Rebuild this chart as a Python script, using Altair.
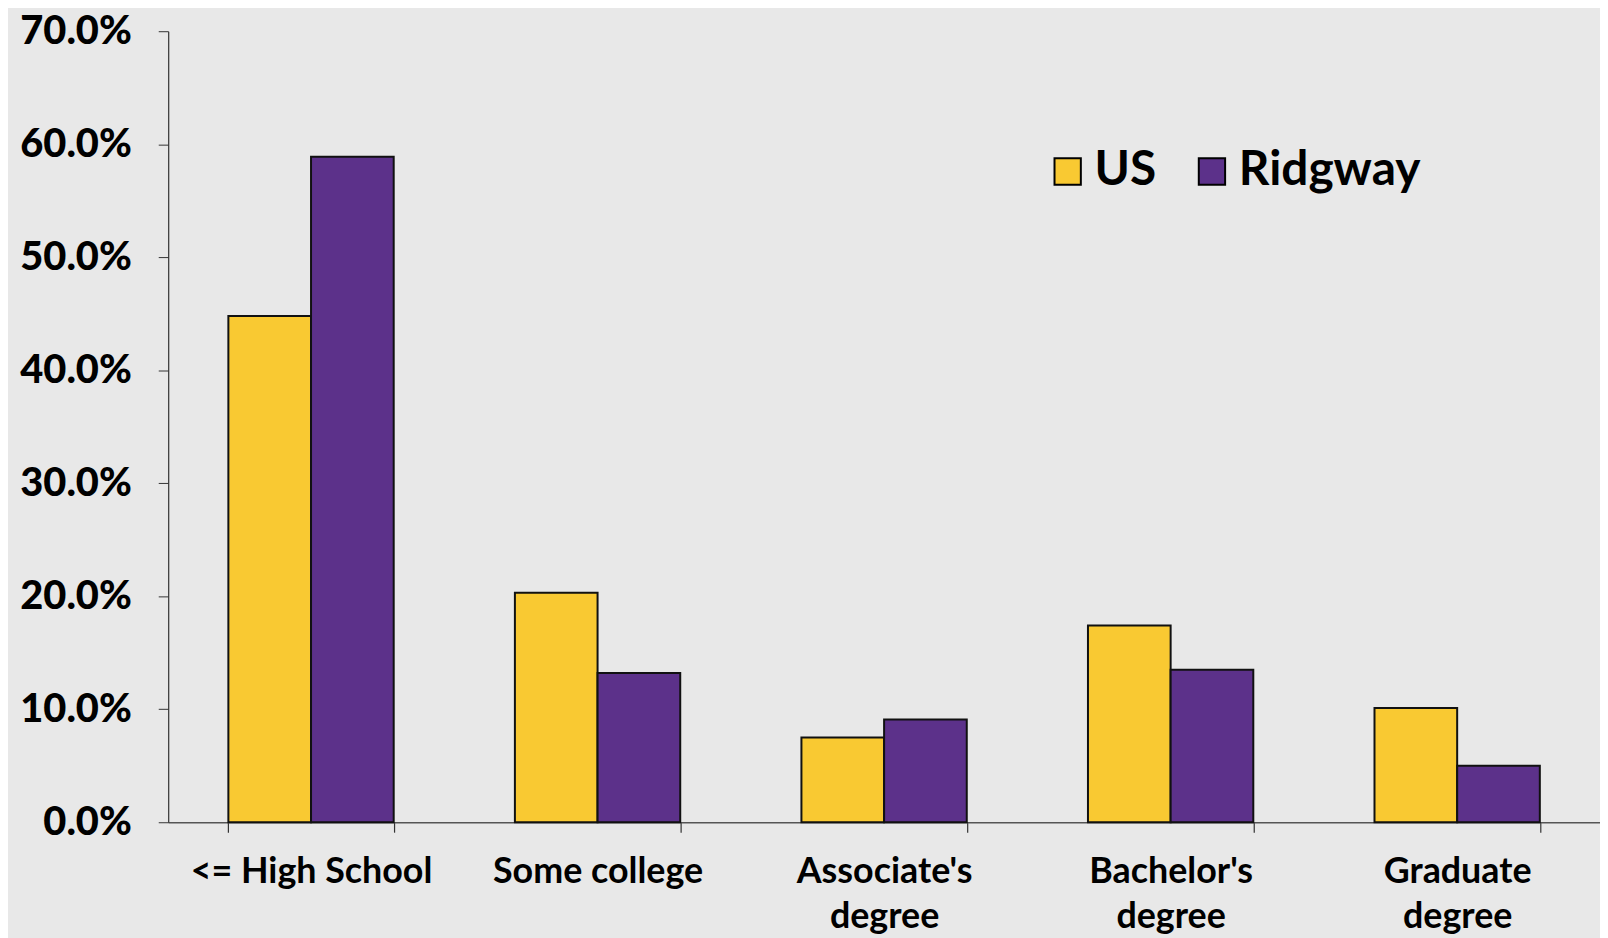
import altair as alt
import pandas as pd

categories = ["<= High School", "Some college", "Associate's degree", "Bachelor's degree", "Graduate degree"]
series = ["US", "Ridgway"]
us_values = [0.448, 0.203, 0.075, 0.174, 0.101]
ridgway_values = [0.589, 0.132, 0.091, 0.135, 0.050]

rows = []
for c, u, r in zip(categories, us_values, ridgway_values):
    rows.append({"category": c, "series": "US", "value": u})
    rows.append({"category": c, "series": "Ridgway", "value": r})
df = pd.DataFrame(rows)

FONT = "Lato"

chart = alt.Chart(df).mark_bar(stroke="#111111", strokeWidth=2).encode(
    x=alt.X("category:N", sort=categories, title=None,
            scale=alt.Scale(paddingInner=0.423, paddingOuter=0.21),
            axis=alt.Axis(labelAngle=0, tickBand="extent", tickSize=10, tickColor="#333333",
                          domainColor="#555555", domainWidth=1.5, tickWidth=1.2,
                          labelFont=FONT, labelFontSize=36, labelFontWeight="bold", labelColor="black",
                          labelPadding=23, labelLineHeight=45, labelBaseline="top", labelLimit=400,
                          labelExpr="indexof(datum.label, 'degree') > 0 ? split(datum.label, ' ') : datum.label")),
    xOffset=alt.XOffset("series:N", sort=series),
    y=alt.Y("value:Q", title=None,
            scale=alt.Scale(domain=[0, 0.7]),
            axis=alt.Axis(format=".1%", values=[0, 0.1, 0.2, 0.3, 0.4, 0.5, 0.6, 0.7], grid=False,
                          tickSize=10, tickColor="#333333", domainColor="#333333", domainWidth=1.2,
                          labelFont=FONT, labelFontSize=40, labelFontWeight=900, labelColor="black",
                          labelPadding=27, labelLimit=300)),
    color=alt.Color("series:N", sort=series,
                    scale=alt.Scale(domain=series, range=["#f9c932", "#5c318a"]),
                    legend=alt.Legend(title=None, orient="none", legendX=880, legendY=117,
                                      direction="horizontal", symbolType="square", symbolSize=700,
                                      symbolStrokeColor="black", symbolStrokeWidth=2, symbolOpacity=1,
                                      labelFont=FONT, labelFontSize=48, labelFontWeight="bold",
                                      labelColor="black", columnPadding=32, labelOffset=3,
                                      labelLimit=400)),
).properties(
    width=1439, height=795,
    autosize=alt.AutoSizeParams(type="none"),
    padding={"left": 161, "top": 21, "right": 0, "bottom": 114},
).configure(background="#e8e8e8").configure_view(stroke=None)

chart.save("out.html", embed_options={"renderer": "svg", "actions": False})
